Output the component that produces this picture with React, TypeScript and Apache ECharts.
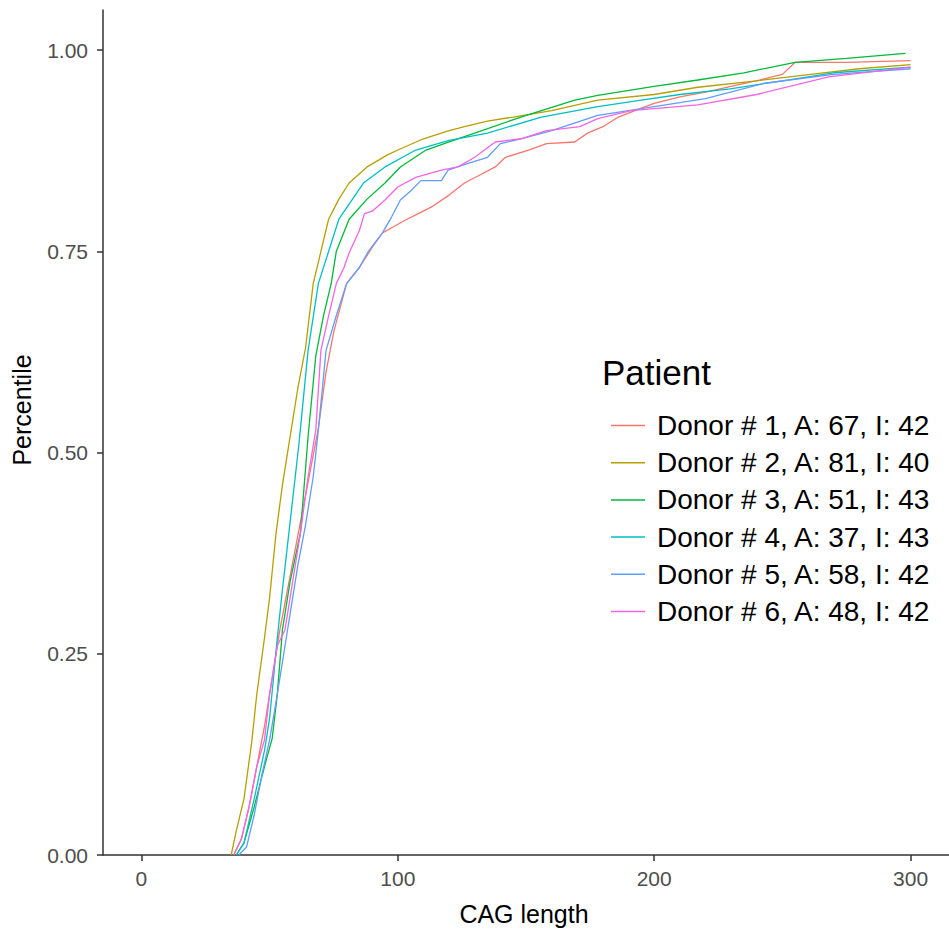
import React, { useEffect, useRef } from "react";
import * as echarts from "echarts";

const seriesNames = [
  "Donor # 1, A: 67, I: 42",
  "Donor # 2, A: 81, I: 40",
  "Donor # 3, A: 51, I: 43",
  "Donor # 4, A: 37, I: 43",
  "Donor # 5, A: 58, I: 42",
  "Donor # 6, A: 48, I: 42",
];
const seriesColors = ["#F8766D", "#B79F00", "#00BA38", "#00BFC4", "#619CFF", "#F564E3"];

const xTicks = [0, 100, 200, 300];
const yTicks = [0, 0.25, 0.5, 0.75, 1];

const donor1: [number, number][] = [
  [36, 0], [39, 0.02], [42, 0.06], [45, 0.11], [48, 0.16], [51, 0.22], [54, 0.28], [57, 0.33],
  [60, 0.38], [63, 0.43], [66, 0.48], [69, 0.53], [72, 0.6], [75, 0.65], [80, 0.71], [85, 0.73],
  [90, 0.755], [94, 0.773], [98, 0.78], [103, 0.789], [108, 0.797], [113, 0.805], [120, 0.82],
  [126, 0.835], [132, 0.845], [138, 0.855], [142, 0.867], [151, 0.876], [158, 0.884], [169, 0.886],
  [174, 0.897], [180, 0.905], [186, 0.917], [195, 0.928], [200, 0.934], [210, 0.942], [220, 0.948],
  [230, 0.955], [241, 0.963], [250, 0.97], [255, 0.985], [275, 0.985], [300, 0.987],
];
const donor2: [number, number][] = [
  [35, 0], [37, 0.03], [40, 0.07], [43, 0.14], [45, 0.2], [48, 0.27], [50, 0.32], [52.5, 0.4],
  [55, 0.46], [58.5, 0.53], [61, 0.58], [64, 0.63], [67, 0.71], [70, 0.75], [73, 0.79], [77, 0.815],
  [81, 0.835], [88, 0.855], [96, 0.87], [100, 0.876], [110, 0.89], [120, 0.9], [126, 0.905],
  [135, 0.912], [145, 0.917], [160, 0.925], [178, 0.938], [200, 0.945], [217, 0.954], [240, 0.962],
  [261, 0.97], [280, 0.977], [300, 0.982],
];
const donor3: [number, number][] = [
  [37, 0], [40, 0.015], [44, 0.06], [48, 0.11], [51, 0.145], [53, 0.2], [55, 0.28], [58, 0.34],
  [62, 0.4], [65, 0.52], [68, 0.62], [71, 0.67], [74, 0.71], [76, 0.75], [81, 0.79], [88, 0.815],
  [95, 0.835], [101, 0.855], [111, 0.876], [120, 0.886], [130, 0.897], [148, 0.917], [169, 0.938],
  [178, 0.944], [200, 0.955], [217, 0.963], [235, 0.972], [255, 0.985], [275, 0.99], [298, 0.996],
];
const donor4: [number, number][] = [
  [37, 0], [40, 0.015], [44, 0.07], [48, 0.13], [50, 0.17], [53, 0.27], [55, 0.33], [57.5, 0.4],
  [61.4, 0.51], [65, 0.627], [69, 0.71], [73, 0.75], [77, 0.79], [86.6, 0.835], [95, 0.855],
  [107, 0.876], [120, 0.888], [135, 0.897], [156, 0.917], [178, 0.93], [195, 0.938], [210, 0.945],
  [229.6, 0.952], [250, 0.962], [270, 0.972], [300, 0.979],
];
const donor5: [number, number][] = [
  [38, 0], [41, 0.01], [44, 0.05], [47, 0.1], [50, 0.143], [53, 0.2], [56, 0.26], [58, 0.3],
  [61, 0.36], [64, 0.41], [67, 0.47], [69, 0.528], [72, 0.627], [76, 0.67], [80, 0.71], [85, 0.73],
  [88.5, 0.75], [94, 0.773], [97.6, 0.793], [101, 0.814], [105, 0.825], [109, 0.838], [117, 0.838],
  [119.6, 0.851], [128, 0.86], [135, 0.867], [140, 0.884], [148, 0.89], [160, 0.9], [178, 0.919],
  [200, 0.93], [220, 0.94], [243, 0.959], [270, 0.97], [300, 0.977],
];
const donor6: [number, number][] = [
  [36, 0], [39, 0.02], [42, 0.06], [45, 0.11], [48, 0.143], [50, 0.2], [53, 0.26], [56, 0.28],
  [59, 0.34], [62, 0.4], [65, 0.47], [68, 0.528], [70, 0.627], [73, 0.67], [76, 0.71], [79, 0.73],
  [81, 0.748], [85, 0.776], [87, 0.797], [90, 0.8], [95, 0.814], [100, 0.83], [107, 0.842],
  [117, 0.851], [123.5, 0.855], [130, 0.867], [138, 0.886], [148, 0.89], [158, 0.9], [171, 0.905],
  [178, 0.915], [191, 0.925], [217, 0.932], [240, 0.945], [268, 0.967], [300, 0.979],
];

const donorData = [donor1, donor2, donor3, donor4, donor5, donor6];

const FONT = "Liberation Sans, Arial, Helvetica, sans-serif";

export default function App() {
  const ref = useRef<HTMLDivElement>(null);
  useEffect(() => {
    if (!ref.current) return;
    const chart = echarts.init(ref.current, null, { renderer: "svg" });
    const axisLine = { show: true, lineStyle: { color: "#333333", width: 1.5 } };
    chart.setOption({
      animation: false,
      backgroundColor: "#ffffff",
      textStyle: { fontFamily: FONT },
      grid: { left: 103, top: 10, width: 850, height: 845, containLabel: false },
      title: {
        text: "Patient",
        left: 597,
        top: 350,
        textStyle: { fontFamily: FONT, fontSize: 35, fontWeight: "normal", color: "#000000" },
      },
      legend: {
        orient: "vertical",
        left: 606,
        top: 405,
        itemWidth: 34,
        itemHeight: 1.5,
        itemGap: 6.2,
        icon: "rect",
        data: seriesNames,
        textStyle: {
          fontFamily: FONT,
          fontSize: 28,
          color: "#000000",
          lineHeight: 31,
          padding: [0, 0, 0, 7],
        },
      },
      xAxis: {
        type: "value",
        min: -15,
        max: 315,
        axisLine: { ...axisLine, onZero: false },
        axisTick: { show: true, length: 6, lineStyle: { color: "#333333", width: 1.5 }, customValues: xTicks },
        axisLabel: {
          customValues: xTicks,
          fontSize: 21,
          color: "#4d4d4d",
          fontFamily: FONT,
          margin: 13,
        },
        splitLine: { show: false },
      },
      yAxis: {
        type: "value",
        min: 0,
        max: 1.05,
        axisLine: { ...axisLine, onZero: false },
        axisTick: { show: true, length: 6, lineStyle: { color: "#333333", width: 1.5 }, customValues: yTicks },
        axisLabel: {
          customValues: yTicks,
          fontSize: 21,
          color: "#4d4d4d",
          fontFamily: FONT,
          margin: 15,
          formatter: (v: number) => v.toFixed(2),
        },
        splitLine: { show: false },
      },
      graphic: [
        {
          type: "text",
          x: 524,
          y: 914,
          style: {
            text: "CAG length",
            fontSize: 25,
            fontFamily: FONT,
            fill: "#000000",
            textAlign: "center",
            textVerticalAlign: "middle",
          },
        },
        {
          type: "text",
          x: 22,
          y: 410,
          rotation: Math.PI / 2,
          style: {
            text: "Percentile",
            fontSize: 25,
            fontFamily: FONT,
            fill: "#000000",
            textAlign: "center",
            textVerticalAlign: "middle",
          },
        },
      ],
      series: donorData.map((d, i) => ({
        name: seriesNames[i],
        type: "line",
        data: d,
        showSymbol: false,
        symbol: "none",
        smooth: false,
        clip: true,
        color: seriesColors[i],
        lineStyle: { color: seriesColors[i], width: 1.3 },
      })),
    });
    return () => chart.dispose();
  }, []);
  return (
    <div
      ref={ref}
      style={{ position: "absolute", left: 0, top: 0, width: 949, height: 930, overflow: "hidden" }}
    />
  );
}
